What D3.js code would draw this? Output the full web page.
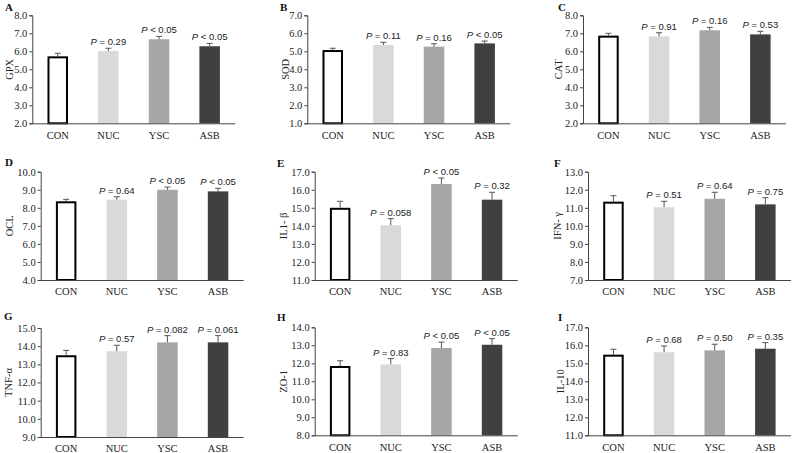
<!DOCTYPE html>
<html><head><meta charset="utf-8">
<script src="https://cdn.jsdelivr.net/npm/d3@7"></script>
<style>
html,body{margin:0;padding:0;background:#fff;}
svg text{font-family:"Liberation Serif","Times New Roman",serif;}
</style></head>
<body>
<svg id="c" width="792" height="453"></svg>
<script>
// ---------- data ----------
const categories = ["CON", "NUC", "YSC", "ASB"];
const panelLetters = ["A", "B", "C", "D", "E", "F", "G", "H", "I"];
const yTitles = ["GPX", "SOD", "CAT", "OCL", "IL1- β", "IFN- γ", "TNF-α", "ZO-1", "IL-10"];
const yDomains = [[2, 8], [1, 7], [2, 8], [4, 10], [11, 17], [7, 13], [9, 15], [8, 14], [11, 17]];
const yTickValues = [
  [2, 3, 4, 5, 6, 7, 8], [1, 2, 3, 4, 5, 6, 7], [2, 3, 4, 5, 6, 7, 8],
  [4, 5, 6, 7, 8, 9, 10], [11, 12, 13, 14, 15, 16, 17], [7, 8, 9, 10, 11, 12, 13],
  [9, 10, 11, 12, 13, 14, 15], [8, 9, 10, 11, 12, 13, 14], [11, 12, 13, 14, 15, 16, 17]
];
const gpxMean = [5.72, 6.02, 6.67, 6.28];   const gpxErr = [0.17, 0.15, 0.16, 0.16];
const sodMean = [5.07, 5.35, 5.26, 5.44];   const sodErr = [0.10, 0.15, 0.16, 0.13];
const catMean = [6.87, 6.83, 7.17, 6.94];   const catErr = [0.13, 0.20, 0.16, 0.17];
const oclMean = [8.36, 8.45, 9.00, 8.91];   const oclErr = [0.11, 0.16, 0.15, 0.17];
const il1bMean = [15.00, 14.03, 16.32, 15.45]; const il1bErr = [0.36, 0.37, 0.33, 0.41];
const ifngMean = [11.34, 11.03, 11.50, 11.19]; const ifngErr = [0.33, 0.33, 0.36, 0.37];
const tnfaMean = [13.50, 13.72, 14.21, 14.21]; const tnfaErr = [0.27, 0.33, 0.37, 0.37];
const zo1Mean = [11.85, 11.94, 12.85, 13.03];  const zo1Err = [0.29, 0.32, 0.33, 0.34];
const il10Mean = [15.48, 15.61, 15.72, 15.81]; const il10Err = [0.30, 0.35, 0.34, 0.34];
const gpxP  = ["= 0.29", "< 0.05", "< 0.05"];
const sodP  = ["= 0.11", "= 0.16", "< 0.05"];
const catP  = ["= 0.91", "= 0.16", "= 0.53"];
const oclP  = ["= 0.64", "< 0.05", "< 0.05"];
const il1bP = ["= 0.058", "< 0.05", "= 0.32"];
const ifngP = ["= 0.51", "= 0.64", "= 0.75"];
const tnfaP = ["= 0.57", "= 0.082", "= 0.061"];
const zo1P  = ["= 0.83", "< 0.05", "< 0.05"];
const il10P = ["= 0.68", "= 0.50", "= 0.35"];

const means = [gpxMean, sodMean, catMean, oclMean, il1bMean, ifngMean, tnfaMean, zo1Mean, il10Mean];
const errs = [gpxErr, sodErr, catErr, oclErr, il1bErr, ifngErr, tnfaErr, zo1Err, il10Err];
const pvals = [gpxP, sodP, catP, oclP, il1bP, ifngP, tnfaP, zo1P, il10P];

// ---------- layout ----------
const axisXs = [32.3, 307.3, 583, 40.7, 314.7, 588, 40.7, 314.7, 588];
const tops = [15.3, 15.3, 15.3, 171.7, 171.7, 171.7, 328, 327.3, 327.3];
const bottoms = [123.3, 123.3, 123.3, 280, 280, 280, 437, 435.3, 435.3];
const letterPos = [[5, 11], [280, 11], [558, 11], [5, 166], [277, 167], [554, 167], [4, 320], [277, 321], [558, 321]];
const titleX = [9, 285, 558, 9, 283, 557, 8, 283, 560];
const fills = ["#ffffff", "#d9d9d9", "#a6a6a6", "#404040"];

const svg = d3.select("#c");

for (let k = 0; k < 9; k++) {
  const g = svg.append("g");
  const x0 = axisXs[k];
  const x = d3.scaleBand().domain(categories).range([x0, x0 + 202.8]).paddingInner(0.595).paddingOuter(0.3);
  const y = d3.scaleLinear().domain(yDomains[k]).range([bottoms[k], tops[k]]);

  categories.forEach((c, i) => {
    const v = means[k][i];
    const isCon = i === 0;
    g.append("rect")
      .attr("x", x(c) + (isCon ? 1 : 0))
      .attr("y", y(v) + (isCon ? 1 : 0))
      .attr("width", x.bandwidth() - (isCon ? 2 : 0))
      .attr("height", y(yDomains[k][0]) - y(v) - (isCon ? 1 : 0))
      .attr("fill", fills[i])
      .attr("stroke", isCon ? "#000" : "none")
      .attr("stroke-width", isCon ? 2 : 0);
    const cx = x(c) + x.bandwidth() / 2;
    const yt = y(v + errs[k][i]);
    g.append("line").attr("x1", cx).attr("x2", cx).attr("y1", y(v)).attr("y2", yt)
      .attr("stroke", "#555").attr("stroke-width", 1);
    g.append("line").attr("x1", cx - 3).attr("x2", cx + 3).attr("y1", yt).attr("y2", yt)
      .attr("stroke", "#555").attr("stroke-width", 1);
    if (i > 0) {
      const t = g.append("text").attr("x", cx).attr("y", yt - 3)
        .attr("text-anchor", "middle")
        .style("font-family", "'Liberation Sans',Arial,sans-serif")
        .style("font-size", "9.5px").attr("fill", "#222");
      t.append("tspan").style("font-style", "italic").text("P");
      t.append("tspan").text(" " + pvals[k][i - 1]);
    }
  });

  const yAxis = d3.axisLeft(y).tickValues(yTickValues[k]).tickFormat(d3.format(".1f")).tickSize(3).tickPadding(2);
  const ga = g.append("g").attr("transform", `translate(${x0},0)`).call(yAxis);
  ga.select(".domain").attr("stroke", "#444");
  ga.selectAll(".tick line").attr("stroke", "#444");
  ga.selectAll(".tick text").style("font-size", "10.5px").attr("fill", "#222")
    .style("font-family", "'Liberation Serif','Times New Roman',serif");

  const xAxis = d3.axisBottom(x).tickSize(0).tickPadding(8);
  const gx = g.append("g").attr("transform", `translate(0,${bottoms[k]})`).call(xAxis);
  gx.select(".domain").attr("d", `M${x0},0.5H${x0 + 203}`).attr("stroke", "#444");
  gx.selectAll(".tick text").style("font-size", "10.5px").attr("fill", "#222")
    .style("font-family", "'Liberation Serif','Times New Roman',serif");

  g.append("text").attr("x", letterPos[k][0]).attr("y", letterPos[k][1])
    .style("font-size", "11px").style("font-weight", "bold").attr("fill", "#111")
    .text(panelLetters[k]);

  const my = (tops[k] + bottoms[k]) / 2;
  g.append("text").attr("transform", `translate(${titleX[k] + 3.5},${my}) rotate(-90)`)
    .attr("text-anchor", "middle").style("font-size", "10.5px").attr("fill", "#222")
    .text(yTitles[k]);
}
</script>
</body></html>
